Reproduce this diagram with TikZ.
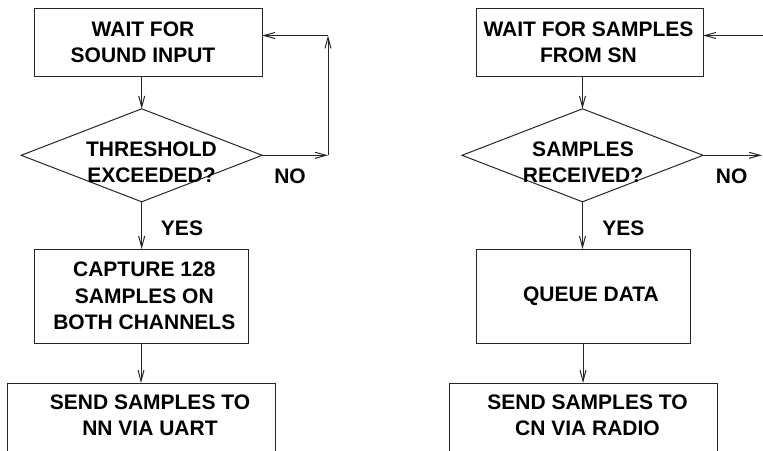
\documentclass[tikz,border=0pt]{standalone}
\usepackage{fontspec}
\newfontfamily\labfont{Liberation Sans Bold}
\usetikzlibrary{arrows.meta,shapes.geometric}
\begin{document}
\begin{tikzpicture}[x=1pt,y=-1pt,
  line width=1pt,
  shapebox/.style={draw=black!85,rectangle,inner sep=0pt,outer sep=0pt},
  decision/.style={draw=black!85,diamond,inner sep=0pt,outer sep=0pt,minimum width=241pt,minimum height=93pt},
  txt/.style={font=\labfont\fontsize{21}{26.5}\selectfont,align=center,inner sep=0pt},
  flow/.style={draw=black!85,-{Straight Barb[length=11pt,width=6pt]}}]
\clip (0,0) rectangle (763,450);
% left column
\node[shapebox,minimum width=228pt,minimum height=68pt] (lb1) at (148,42) {};
\node[decision] (ld) at (141.7,155.3) {};
\node[shapebox,minimum width=214pt,minimum height=94pt] (lb2) at (141,296) {};
\node[shapebox,minimum width=268pt,minimum height=69pt] (lb3) at (141,417.5) {};
\node[txt] (lt1) at (143,42.5) {WAIT FOR\\SOUND INPUT};
\node[txt] (lt2) at (151.5,162.5) {THRESHOLD\\EXCEEDED?};
\node[txt] (lt3) at (144.3,296) {CAPTURE 128\\SAMPLES ON\\BOTH CHANNELS};
\node[txt] (lt4) at (150,415.5) {SEND SAMPLES TO\\NN VIA UART};
\node[txt] (lno) at (290,176) {NO};
\node[txt] (lyes) at (182,228.7) {YES};
\coordinate (lc1) at (328,155.3);
\coordinate (lc2) at (328,35.5);
\draw[flow] (ld.north |- lb1.south) -- (ld.north);
\draw[flow] (ld.south) -- (ld.south |- lb2.north);
\draw[flow] (lb2.south) -- (lb3.north);
\draw[flow] (ld.east) -- (lc1);
\draw[flow] (lc1) -- (lc2);
\draw[flow] (lc2) -- (lb1.east |- lc2);
% right column
\node[shapebox,minimum width=227pt,minimum height=68pt] (rb1) at (589.5,42) {};
\node[decision] (rd) at (582.5,155.3) {};
\node[shapebox,minimum width=214pt,minimum height=94pt] (rb2) at (583,296) {};
\node[shapebox,minimum width=268pt,minimum height=69pt] (rb3) at (583,417.5) {};
\node[txt] (rt1) at (588.5,42.5) {WAIT FOR SAMPLES\\FROM SN};
\node[txt] (rt2) at (583,162.5) {SAMPLES\\RECEIVED?};
\node[txt] (rt3) at (591,296) {QUEUE DATA};
\node[txt] (rt4) at (587.5,415.5) {SEND SAMPLES TO\\CN VIA RADIO};
\node[txt] (rno) at (731.7,176) {NO};
\node[txt] (ryes) at (623.3,228.7) {YES};
\coordinate (rc1) at (762,155.3);
\coordinate (rc2) at (765,35.5);
\draw[flow] (rd.north |- rb1.south) -- (rd.north);
\draw[flow] (rd.south) -- (rd.south |- rb2.north);
\draw[flow] (rb2.south) -- (rb3.north);
\draw[flow] (rd.east) -- (rc1);
\draw[flow] (rc2) -- (rb1.east |- rc2);
\end{tikzpicture}
\end{document}
